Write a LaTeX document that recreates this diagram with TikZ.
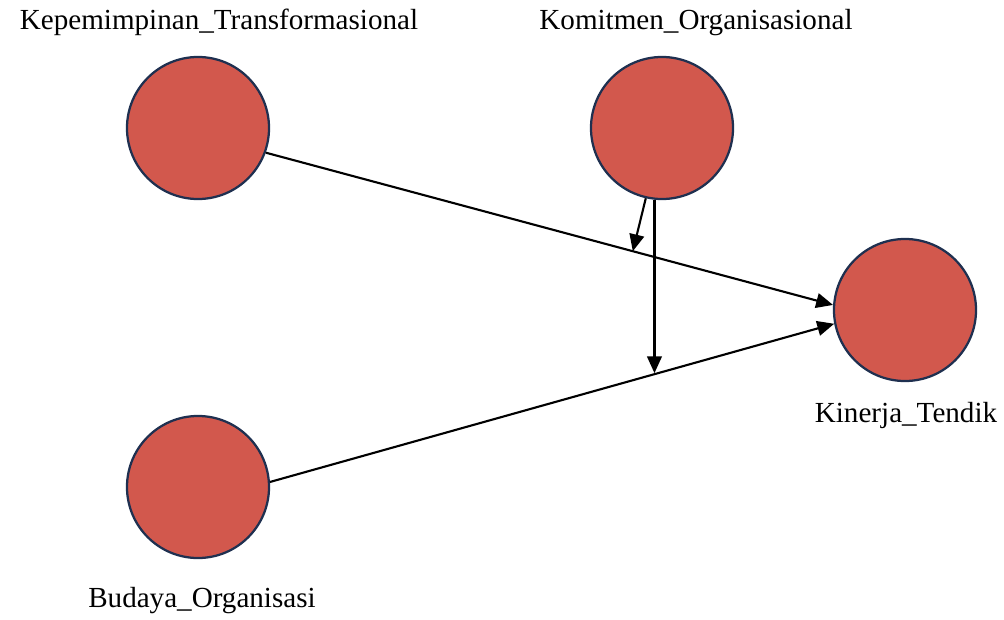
\documentclass[tikz,border=0pt]{standalone}
\usepackage{fontspec}
\setmainfont{Liberation Serif}
\usetikzlibrary{arrows.meta}
\definecolor{varfill}{HTML}{D2584D}
\definecolor{varline}{HTML}{1F3050}
\begin{document}
\begin{tikzpicture}[x=0.025cm,y=-0.025cm,
    var/.style={circle,draw=varline,fill=varfill,line width=1.6pt,minimum size=3.55cm},
    lbl/.style={anchor=base,font=\fontsize{20.7}{24}\selectfont},
    link/.style={draw,line width=1.5pt,-{Triangle[length=12pt,width=10.5pt]}}]
      \tikzstyle{every node}+=[inner sep=0pt]
      \useasboundingbox (0,0) rectangle (1004,619);
      % latent variables
      \node [var] (kep) at (198,128) {};
      \node [var] (kom) at (662,128) {};
      \node [var] (kin) at (905,310) {};
      \node [var] (bud) at (198,487) {};
      \node [lbl] (kepl) at (219,29) {Kepemimpinan\_Transformasional};
      \node [lbl] (koml) at (696,29) {Komitmen\_Organisasional};
      \node [lbl] (kinl) at (906,422) {Kinerja\_Tendik};
      \node [lbl] (budl) at (202,607) {Budaya\_Organisasi};
      % direct paths
      \draw [link] (kep.-20) -- (kin.176) coordinate[pos=0.647] (m1);
      \draw [link] (bud.4) -- (kin.-169) coordinate[pos=0.688] (m2);
      % moderating paths
      \draw [link] (kom.-103) -- (m1);
      \draw [link] (kom.-96) -- (kom.-96 |- m2);
\end{tikzpicture}
\end{document}
